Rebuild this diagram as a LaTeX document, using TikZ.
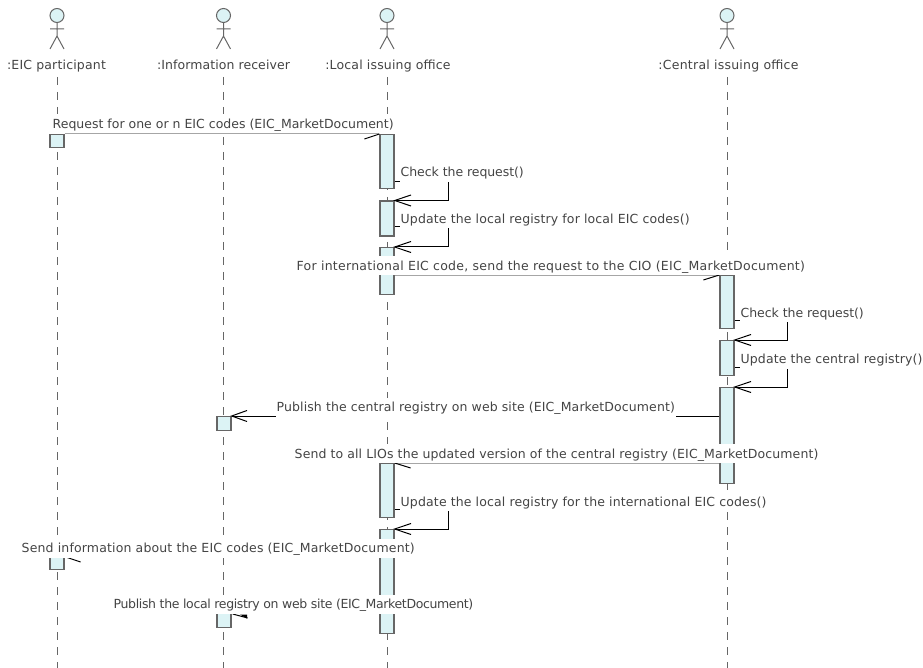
\documentclass[tikz,border=0pt]{standalone}
\usepackage{fontspec}
\setmainfont{DejaVu Sans}
\definecolor{fillc}{HTML}{DCF3F5}
\definecolor{edgec}{HTML}{666666}
\definecolor{textc}{HTML}{444444}
\newsavebox{\lblbox}
\newcommand{\fitted}[3]{%
  \sbox{\lblbox}{#3}%
  \pgfmathsetmacro{\lblspace}{100*(#1-\the\wd\lblbox)/(#2-1)/12.5}%
  \edef\lblfeature{\noexpand\addfontfeature{LetterSpace=\lblspace}}%
  \lblfeature #3%
}
\tikzset{
  actorlabel/.style={font=\fontsize{12.5}{14}\selectfont,text=textc,inner sep=0pt,fill=white,text height=10pt,text depth=3pt},
  msglabel/.style={font=\fontsize{12.5}{14}\selectfont,text=textc,inner sep=1pt,fill=white,anchor=west,text height=13pt,text depth=4pt},
  lifeline/.style={draw=edgec,line width=1pt,dash pattern=on 8pt off 7pt},
  actbar/.style={draw=edgec,fill=fillc,line width=1.3pt,minimum width=14pt,inner sep=0pt,anchor=north},
  actorhead/.style={circle,draw=edgec,fill=fillc,line width=1pt,minimum size=14pt,inner sep=0pt},
  limb/.style={draw=edgec,line width=1pt},
  call/.style={draw=black,line width=1pt},
  greyline/.style={draw=black!35,line width=1pt},
  barb/.style={draw=black,line width=1pt},
}
\newcommand{\actorfig}[6]{%
  \node[actorhead] (#1) at (#2,15.5) {};
  \draw[limb] (#1.south) -- (#2,36) (#2-7,29) -- (#2+7,29) (#2-7,49) -- (#2,36) -- (#2+7,49);
  \coordinate (#1end) at (#2,668);
  \coordinate (#1top) at (#2,77);
  \draw[lifeline] (#1top) -- (#1end);
  \node[actorlabel] (#1lab) at (#3,66.5) {\fitted{#4}{#5}{#6}};
}
\begin{document}
\begin{tikzpicture}[x=1pt,y=-1pt]
\useasboundingbox (0,0) rectangle (923,668);
\actorfig{eic}{57}{56.5}{99}{16}{:EIC participant}
\actorfig{rec}{223.5}{223.5}{133}{21}{:Information receiver}
\actorfig{lio}{387}{388}{126}{21}{:Local issuing office}
\actorfig{cio}{727}{728.5}{141}{23}{:Central issuing office}
% activations
\node[actbar,minimum height=13pt] (e1) at (57,134) {};
\node[actbar,minimum height=54pt] (l1) at (387,134) {};
\node[actbar,minimum height=35pt] (l2) at (387,200.5) {};
\node[actbar,minimum height=47pt] (l3) at (387,247) {};
\node[actbar,minimum height=53pt] (c1) at (727,275) {};
\node[actbar,minimum height=35pt] (c2) at (727,340) {};
\node[actbar,minimum height=96pt] (c3) at (727,387) {};
\node[actbar,minimum height=14pt] (r1) at (224,416) {};
\node[actbar,minimum height=54pt] (l4) at (387,463) {};
\node[actbar,minimum height=104pt] (l5) at (387,529) {};
\node[actbar,minimum height=12pt] (e2) at (57,557) {};
\node[actbar,minimum height=14pt] (r2) at (224,613) {};
% connectors
\draw[greyline] (e1.north east) -- (l1.north west);
\draw[barb] (l1.north west) -- ++(-15,5);
\draw[call] (l1.east |- 0,181.5) -- (448,181.5) -- (448,200.5) -- (l2.north east);
\draw[barb] (411,195) -- (l2.north east) -- (411,206);
\draw[call] (l2.east |- 0,227) -- (448,227) -- (448,247) -- (l3.north east);
\draw[barb] (411,241.5) -- (l3.north east) -- (411,252.5);
\draw[greyline] (l3.east |- 0,275) -- (c1.north west);
\draw[barb] (c1.north west) -- ++(-16,5);
\draw[call] (c1.east |- 0,320) -- (787,320) -- (787,340) -- (c2.north east);
\draw[barb] (751,334.5) -- (c2.north east) -- (751,345.5);
\draw[call] (c2.east |- 0,367) -- (787,367) -- (787,387) -- (c3.north east);
\draw[barb] (751,381.5) -- (c3.north east) -- (751,392.5);
\draw[call] (c3.west |- 0,416) -- (r1.north east);
\draw[barb] (247,410.5) -- (r1.north east) -- (247,421.5);
\draw[greyline] (c3.west |- 0,463) -- (l4.north east);
\draw[barb] (l4.north east) -- ++(16,5);
\draw[call] (l4.east |- 0,509) -- (448,509) -- (448,529) -- (l5.north east);
\draw[barb] (411,523.5) -- (l5.north east) -- (411,534.5);
\draw[barb] (e2.north east) ++(1,0) -- ++(15,5);
\draw[barb] (r2.north east) ++(1,1) -- ++(15,4);
\fill[black] (240,614.5) -- (247,614.5) -- (247,618.5) -- cycle;
% labels
\node[msglabel] (m1) at (51.5,124) {\fitted{341}{51}{Request for one or n EIC codes (EIC\_MarketDocument)}};
\node[msglabel] (m2) at (399.5,172.5) {\fitted{123}{19}{Check the request()}};
\node[msglabel] (m3) at (399.5,219) {\fitted{290}{47}{Update the local registry for local EIC codes()}};
\node[msglabel] (m4) at (295.5,265.5) {\fitted{511}{76}{For international EIC code, send the request to the CIO (EIC\_MarketDocument)}};
\node[msglabel] (m5) at (739.5,312.5) {\fitted{123}{19}{Check the request()}};
\node[msglabel] (m6) at (739.5,359) {\fitted{182}{29}{Update the central registry()}};
\node[msglabel] (m7) at (275.5,407) {\fitted{399}{61}{Publish the central registry on web site (EIC\_MarketDocument)}};
\node[msglabel] (m8) at (293.5,453.5) {\fitted{525}{81}{Send to all LIOs the updated version of the central registry (EIC\_MarketDocument)}};
\node[msglabel] (m9) at (399.5,501.5) {\fitted{367}{59}{Update the local registry for the international EIC codes()}};
\node[msglabel] (m10) at (20.5,548) {\fitted{394}{57}{Send information about the EIC codes (EIC\_MarketDocument)}};
\node[msglabel] (m11) at (112.5,604) {\fitted{357}{59}{Publish the local registry on web site (EIC\_MarketDocument)}};
\end{tikzpicture}
\end{document}
